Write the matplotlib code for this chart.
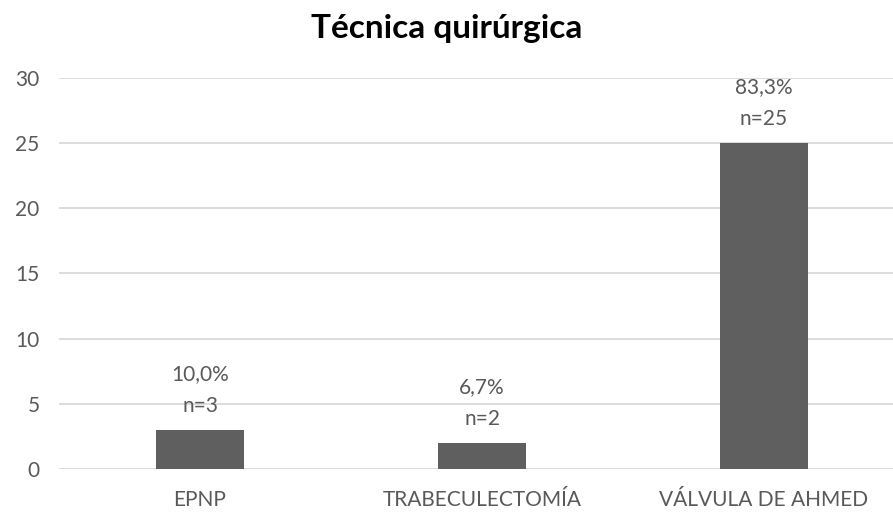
import matplotlib
matplotlib.use("Agg")
import matplotlib.pyplot as plt
import numpy as np

categories = ['EPNP', 'TRABECULECTOMÍA', 'VÁLVULA DE AHMED']
counts = [3, 2, 25]
percents = ['10,0%', '6,7%', '83,3%']
yticks = [0, 5, 10, 15, 20, 25, 30]

plt.rcParams['font.family'] = ['Lato', 'DejaVu Sans']

text_color = '#595959'
bar_color = '#5f5f5f'
grid_color = '#d9d9d9'

fig = plt.figure(figsize=(8.93, 5.13), dpi=100)
ax = fig.add_axes([0.0661, 0.0858, 0.9339, 0.7627])

x = np.arange(len(categories))
bars = ax.bar(x, counts, width=0.31, color=bar_color, zorder=3)

ax.set_xlim(-0.5, -0.5 + 834 / 282)
ax.set_ylim(0, 30)
ax.set_yticks(yticks)
ax.set_xticks(x)
ax.set_xticklabels(categories)

ax.yaxis.grid(True, color=grid_color, linewidth=1.3, zorder=0)
for s in ax.spines.values():
    s.set_visible(False)
ax.tick_params(axis='both', length=0, colors=text_color, labelsize=15)
ax.tick_params(axis='y', pad=14)
ax.tick_params(axis='x', pad=15)

for rect, pct, n in zip(bars, percents, counts):
    ax.annotate(f'{pct}\nn={n}',
                xy=(rect.get_x() + rect.get_width() / 2, rect.get_height()),
                xytext=(0, 10), textcoords='offset points',
                ha='center', va='bottom', fontsize=15, color=text_color,
                linespacing=1.75)

fig.text(0.5, 0.945, 'Técnica quirúrgica', ha='center', va='center',
         fontsize=24, fontweight='bold', color='black')

fig.savefig('out.png', dpi=100)
